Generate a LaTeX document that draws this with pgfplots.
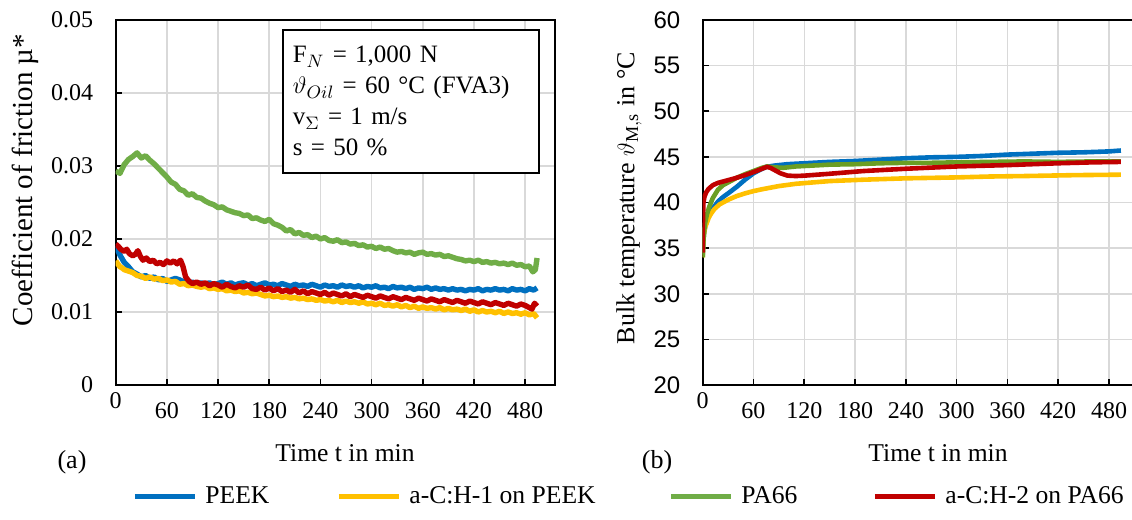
\documentclass[border=0pt]{standalone}
\usepackage{fontspec}
\setmainfont{Liberation Serif}
\newfontfamily\arialfont{Liberation Sans}
\usepackage{pgfplots}
\pgfplotsset{compat=1.18}
\definecolor{cBlue}{HTML}{0070C0}
\definecolor{cYellow}{HTML}{FFC000}
\definecolor{cGreenA}{HTML}{70AD47}
\definecolor{cGreenB}{HTML}{6A9E23}
\definecolor{cRed}{HTML}{C00000}
\definecolor{cGrid}{HTML}{D9D9D9}

\pgfplotsset{
  common/.style={
    scale only axis,
    height=182.5pt,
    xmin=0,
    axis line style={line width=1pt, black},
    grid=major,
    major grid style={cGrid, line width=0.75pt},
    tick align=inside,
    tick pos=left,
    major tick length=3pt,
    tick style={black, line width=0.8pt},
    xtick={0,60,...,480},
    xticklabels={\raisebox{5pt}[\height][\depth]{0},60,120,180,240,300,360,420,480},
    xticklabel style={font=\fontsize{12}{14}\selectfont, yshift=-5pt},
    yticklabel style={xshift=-7.7pt},
    scaled y ticks=false,
    scaled x ticks=false,
    /pgf/number format/assume math mode=true,
    xlabel={Time t in min},
    xlabel style={font=\fontsize{12.8}{15}\selectfont, anchor=center},
    ylabel style={rotate=0, anchor=center},
    every axis plot/.append style={no marks, line join=round},
  }
}

\begin{document}
\begin{tikzpicture}
\path[use as bounding box] (0,0) rectangle (566pt,-260pt);

% ---------------- (a) ----------------
\begin{axis}[common,
  at={(57.85pt,-192.5pt)}, anchor=south west,
  width=219.65pt,
  xmax=515, ymin=0, ymax=0.05,
  ytick={0,0.01,0.02,0.03,0.04,0.05},
  yticklabels={0,0.01,0.02,0.03,0.04,0.05},
  yticklabel style={font=\fontsize{12}{14}\selectfont},
  xlabel style={at={(axis description cs:0.522,-0.186)}},
  ylabel={Coefficient of friction µ*},
  ylabel style={font=\fontsize{14.5}{17}\selectfont, at={(axis description cs:-0.2065,0.5616)}},
  legend columns=4,
  legend cell align=left,
  legend style={at={(axis description cs:0.0371,-0.3068)}, anchor=west, draw=none, fill=none,
    inner sep=0pt, column sep=0pt, font=\fontsize{12.8}{15}\selectfont, nodes={inner sep=0pt}},
  legend image code/.code={\draw[#1, line width=2.5pt] (0pt,0pt) -- (30pt,0pt);},
]
\addplot[cBlue, line width=2.7pt] table {
0 0.0190
3 0.0183
5 0.0178
8 0.0172
10 0.0168
15 0.0162
20 0.0155
25 0.0152
30 0.0148
35 0.0150
40 0.0146
45 0.0148
50 0.0144
55 0.0146
60 0.0142
65 0.0144
70 0.0146
75 0.0144
80 0.0141
85 0.0139
90 0.0141
95 0.0138
100 0.0140
105 0.0138
110 0.0140
115 0.0137
120 0.0139
125 0.0141
130 0.0138
135 0.0140
140 0.0137
145 0.0139
150 0.0140
155 0.0137
160 0.0139
165 0.0136
170 0.0138
175 0.0140
180 0.0137
185 0.0138
190 0.0136
195 0.0139
200 0.0137
205 0.0135
210 0.0138
215 0.0136
220 0.0137
225 0.0135
230 0.0138
235 0.0136
240 0.0134
245 0.0137
250 0.0135
255 0.0136
260 0.0134
265 0.0137
270 0.0135
275 0.0136
280 0.0134
285 0.0136
290 0.0133
295 0.0135
300 0.0134
305 0.0136
310 0.0133
315 0.0134
320 0.0132
325 0.0135
330 0.0133
335 0.0134
340 0.0132
345 0.0134
350 0.0131
355 0.0133
360 0.0132
365 0.0134
370 0.0131
375 0.0133
380 0.0131
385 0.0132
390 0.0130
395 0.0132
400 0.0130
405 0.0131
410 0.0129
415 0.0131
420 0.0130
425 0.0132
430 0.0129
435 0.0131
440 0.0130
445 0.0132
450 0.0130
455 0.0131
460 0.0129
465 0.0132
470 0.0130
475 0.0131
480 0.0129
485 0.0132
490 0.0130
494 0.0133
};
\addlegendentry{\makebox[69.5pt][l]{\hspace{4pt}PEEK}}
\addplot[cYellow, line width=2.7pt] table {
0 0.0170
3 0.0165
5 0.0162
8 0.0160
10 0.0158
15 0.0156
20 0.0154
25 0.0150
30 0.0149
35 0.0146
40 0.0148
45 0.0145
50 0.0146
55 0.0143
60 0.0144
65 0.0141
70 0.0142
75 0.0138
80 0.0139
85 0.0136
90 0.0137
95 0.0135
100 0.0134
105 0.0135
110 0.0132
115 0.0133
120 0.0131
125 0.0132
130 0.0129
135 0.0130
140 0.0128
145 0.0129
150 0.0126
155 0.0127
160 0.0125
165 0.0126
170 0.0124
175 0.0122
180 0.0123
185 0.0121
190 0.0122
195 0.0120
200 0.0121
205 0.0119
210 0.0120
215 0.0118
220 0.0119
225 0.0117
230 0.0118
235 0.0116
240 0.0117
245 0.0115
250 0.0116
255 0.0114
260 0.0116
265 0.0113
270 0.0115
275 0.0113
280 0.0114
285 0.0112
290 0.0114
295 0.0111
300 0.0112
305 0.0110
310 0.0112
315 0.0109
320 0.0110
325 0.0108
330 0.0110
335 0.0107
340 0.0109
345 0.0106
350 0.0108
355 0.0105
360 0.0107
365 0.0105
370 0.0106
375 0.0104
380 0.0106
385 0.0103
390 0.0105
395 0.0103
400 0.0104
405 0.0102
410 0.0104
415 0.0101
420 0.0103
425 0.0100
430 0.0102
435 0.0100
440 0.0101
445 0.0099
450 0.0101
455 0.0098
460 0.0100
465 0.0098
470 0.0099
475 0.0097
480 0.0099
485 0.0096
490 0.0098
494 0.0092
};
\addlegendentry{\makebox[133.5pt][l]{\hspace{4pt}a-C:H-1 on PEEK}}
\addplot[cGreenA, line width=2.7pt] table {
0 0.0293
5 0.0290
10 0.0302
15 0.0309
20 0.0313
25 0.0318
30 0.0311
35 0.0314
40 0.0308
45 0.0303
50 0.0297
55 0.0291
60 0.0285
65 0.0278
70 0.0275
75 0.0268
80 0.0266
85 0.0260
90 0.0262
95 0.0257
100 0.0256
105 0.0252
110 0.0249
115 0.0247
120 0.0243
125 0.0244
130 0.0240
135 0.0238
140 0.0236
145 0.0235
150 0.0232
155 0.0233
160 0.0228
165 0.0229
170 0.0226
175 0.0224
180 0.0227
185 0.0221
190 0.0219
195 0.0216
200 0.0211
205 0.0213
210 0.0207
215 0.0209
220 0.0205
225 0.0206
230 0.0202
235 0.0204
240 0.0200
245 0.0202
250 0.0198
255 0.0197
260 0.0199
265 0.0195
270 0.0196
275 0.0193
280 0.0194
285 0.0191
290 0.0192
295 0.0189
300 0.0190
305 0.0187
310 0.0189
315 0.0186
320 0.0187
325 0.0184
330 0.0182
335 0.0183
340 0.0181
345 0.0182
350 0.0179
355 0.0181
360 0.0182
365 0.0179
370 0.0180
375 0.0178
380 0.0179
385 0.0176
390 0.0177
395 0.0175
400 0.0173
405 0.0172
410 0.0170
415 0.0171
420 0.0169
425 0.0171
430 0.0168
435 0.0169
440 0.0167
445 0.0168
450 0.0166
455 0.0167
460 0.0165
465 0.0167
470 0.0164
475 0.0165
480 0.0162
485 0.0163
489 0.0155
492 0.0158
494 0.0174
};
\addlegendentry{\makebox[69.5pt][l]{\hspace{4pt}PA66}}
\addplot[cRed, line width=2.7pt] table {
0 0.0193
3 0.0190
6 0.0186
10 0.0183
13 0.0186
16 0.0180
20 0.0177
23 0.0179
26 0.0184
29 0.0176
32 0.0171
36 0.0174
40 0.0169
44 0.0171
48 0.0166
52 0.0168
56 0.0165
60 0.0170
64 0.0167
68 0.0170
72 0.0166
76 0.0171
79 0.0162
82 0.0148
86 0.0142
90 0.0139
95 0.0141
100 0.0138
105 0.0140
110 0.0136
115 0.0139
120 0.0137
125 0.0134
130 0.0138
135 0.0135
140 0.0133
145 0.0136
150 0.0134
155 0.0137
160 0.0132
165 0.0131
170 0.0134
175 0.0130
180 0.0133
185 0.0129
190 0.0132
195 0.0128
200 0.0130
205 0.0127
210 0.0131
215 0.0126
220 0.0129
225 0.0125
230 0.0128
235 0.0126
240 0.0124
245 0.0127
250 0.0123
255 0.0126
260 0.0124
265 0.0122
270 0.0125
275 0.0121
280 0.0124
285 0.0122
290 0.0120
295 0.0123
300 0.0121
305 0.0119
310 0.0122
315 0.0120
320 0.0118
325 0.0121
330 0.0119
335 0.0117
340 0.0120
345 0.0118
350 0.0116
355 0.0119
360 0.0117
365 0.0115
370 0.0118
375 0.0116
380 0.0114
385 0.0117
390 0.0115
395 0.0113
400 0.0116
405 0.0114
410 0.0112
415 0.0115
420 0.0113
425 0.0111
430 0.0114
435 0.0112
440 0.0110
445 0.0113
450 0.0111
455 0.0109
460 0.0112
465 0.0110
470 0.0108
475 0.0111
480 0.0109
485 0.0106
488 0.0104
491 0.0112
494 0.0108
};
\addlegendentry{\hspace{4pt}a-C:H-2 on PA66}
\node[draw=black, line width=0.8pt, fill=white, anchor=north west, align=left,
  text width=118pt, minimum height=71.5pt, inner sep=5pt,
  font=\fontsize{12.5}{15.5}\selectfont]
  at (rel axis cs:0.3786,0.9753)
  {F$_{N}$ = 1,000 N\\ $\vartheta_{Oil}$ = 60 °C (FVA3)\\ v$_{\Sigma}$ = 1 m/s\\ s = 50 \%};
\end{axis}

% ---------------- (b) ----------------
\begin{axis}[common,
  at={(351.35pt,-192.5pt)}, anchor=south west,
  width=215.65pt,
  xmax=509.5, ymin=20, ymax=60,
  ytick={20,25,...,60},
  yticklabel style={font=\arialfont\fontsize{12}{14}\selectfont},
  xlabel style={at={(axis description cs:0.5456,-0.186)}},
  ylabel={Bulk temperature $\vartheta_{\mathrm{M,s}}$ in °C},
  ylabel style={font=\fontsize{13}{16}\selectfont, at={(axis description cs:-0.171,0.512)}},
]
\addplot[cBlue, line width=2.3pt] table {
0 34.3
0.5 35.4
1.5 36.6
3 37.4
6 38.4
10 39.1
14 39.6
18 40.1
24 40.6
30 41.0
40 41.7
50 42.5
60 43.2
68 43.6
75 43.9
85 44.05
100 44.2
120 44.3
150 44.45
180 44.55
210 44.7
240 44.85
270 44.95
300 45.0
330 45.1
360 45.25
390 45.35
420 45.45
450 45.5
480 45.6
494 45.7
};
\addplot[cYellow, line width=2.3pt] table {
0 34.0
0.5 35.5
1.5 36.6
3 37.3
7 38.3
10 38.8
14 39.3
20 39.8
30 40.3
40 40.7
50 41.0
60 41.25
70 41.45
90 41.8
110 42.05
130 42.2
150 42.35
190 42.5
240 42.65
300 42.75
340 42.85
380 42.9
440 43.0
494 43.05
};
\addplot[cGreenB, line width=2.3pt] table {
0 34.0
1 36.0
2.5 37.6
5 38.7
8 39.6
12 40.5
18 41.4
24 41.9
30 42.2
40 42.7
50 43.1
60 43.45
70 43.8
76 43.95
85 43.85
95 43.8
110 43.95
130 44.05
150 44.15
180 44.2
210 44.3
240 44.35
270 44.35
300 44.4
340 44.45
380 44.5
420 44.45
460 44.5
494 44.5
};
\addplot[cRed, line width=2.3pt] table {
0 34.5
0.3 38.0
0.8 39.9
2 40.6
4 41.1
7 41.5
12 41.9
18 42.15
28 42.4
38 42.65
50 43.0
62 43.4
70 43.7
76 43.9
80 43.8
86 43.5
92 43.2
100 42.95
110 42.9
121 42.95
150 43.15
190 43.45
240 43.7
300 43.95
360 44.1
420 44.3
460 44.4
494 44.45
};
\end{axis}

\node[font=\fontsize{13}{15}\selectfont] at (36pt,-231pt) {(a)};
\node[font=\fontsize{13}{15}\selectfont] at (328.5pt,-231pt) {(b)};
\end{tikzpicture}
\end{document}
